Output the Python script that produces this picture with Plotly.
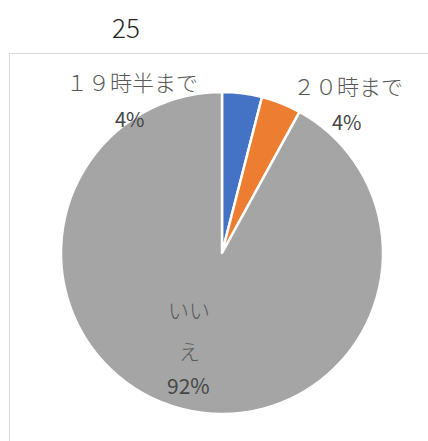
import plotly.graph_objects as go

labels = ["１９時半まで", "２０時まで", "いいえ"]
values = [1, 1, 23]
colors = ["#4472C4", "#ED7D31", "#A5A5A5"]
title_text = "25"

W, H = 428, 441
L, R, T, B = 61, 45, 92, 27
PW, PH = W - L - R, H - T - B

def px(x):
    return (x - L) / PW

def py(y):
    return (H - B - y) / PH

total = sum(values)
pcts = [f"{round(v / total * 100)}%" for v in values]

fig = go.Figure(go.Pie(
    labels=labels, values=values, sort=False, direction="clockwise", rotation=0,
    marker=dict(colors=colors, line=dict(color="white", width=2.5)),
    textinfo="none", hoverinfo="label+percent", showlegend=False,
))

font = "Noto Sans CJK JP"
gray = "#595959"
ann = []
def add(text, x, y, size, weight="normal", color=gray):
    ann.append(dict(text=text, x=px(x), y=py(y),
                    xref="paper", yref="paper", showarrow=False,
                    font=dict(family=font, size=size, color=color, weight=weight),
                    xanchor="center", yanchor="middle"))

add(labels[0], 132, 81, 22, weight=300)
add(pcts[0], 130, 118, 20, color="#454545")
add(labels[1], 348, 85, 22, weight=300)
add(pcts[1], 347, 122, 20, color="#454545")
add(labels[2][:2], 189, 309, 21, weight=300)
add(labels[2][2:], 189, 350, 21, weight=300)
add(pcts[2], 188, 385, 21, color="#454545")
add(title_text, 126, 27, 26, weight=300, color="#262626")

fig.update_layout(
    width=W, height=H, margin=dict(l=L, r=R, t=T, b=B),
    paper_bgcolor="white", plot_bgcolor="white",
    annotations=ann,
    shapes=[dict(type="rect", xref="paper", yref="paper",
                 x0=px(9.5), x1=px(600), y0=py(600), y1=py(53.5),
                 line=dict(color="#D9D9D9", width=1), fillcolor="rgba(0,0,0,0)",
                 layer="below")],
)
fig.write_html("out.html", config={"displayModeBar": False},
               post_script="document.body.style.margin='0';document.body.style.padding='0';"
                           "document.body.style.overflow='hidden';"
                           "document.documentElement.style.overflow='hidden';")
